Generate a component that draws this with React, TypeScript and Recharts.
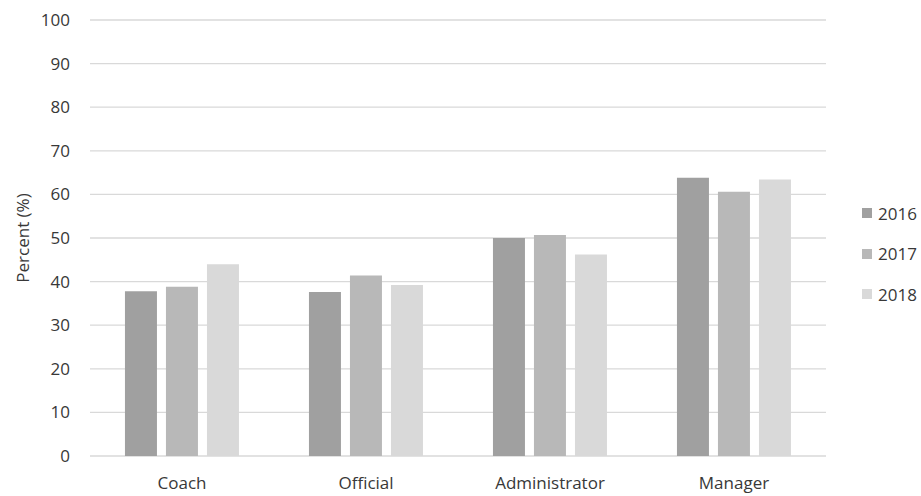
import { BarChart, Bar, XAxis, YAxis, CartesianGrid } from "recharts";

const categories = ["Coach", "Official", "Administrator", "Manager"];
const years = ["2016", "2017", "2018"];
const values2016 = [37.8, 37.6, 50.0, 63.8];
const values2017 = [38.8, 41.4, 50.7, 60.6];
const values2018 = [44.0, 39.2, 46.2, 63.4];
const yTicks = [0, 10, 20, 30, 40, 50, 60, 70, 80, 90, 100];

const colors = ["#a0a0a0", "#b8b8b8", "#d9d9d9"];
const font = "'Open Sans', sans-serif";
const textColor = "#383838";
const fontSize = 17;

const data = categories.map((name, i) => ({
  name,
  "2016": values2016[i],
  "2017": values2017[i],
  "2018": values2018[i],
}));

// legend sits to the right of the plot, outside recharts layout
function LegendBox() {
  return (
    <div
      style={{
        position: "absolute",
        left: 862,
        top: 193,
        fontFamily: font,
        fontSize,
        color: textColor,
      }}
    >
      {years.map((y, i) => (
        <div
          key={y}
          style={{ display: "flex", alignItems: "center", height: 40.5 }}
        >
          <span
            style={{
              width: 10,
              height: 10,
              background: colors[i],
              marginRight: 6,
              display: "inline-block",
            }}
          />
          {y}
        </div>
      ))}
    </div>
  );
}

export default function App() {
  return (
    <div
      style={{
        position: "fixed",
        left: 0,
        top: 0,
        width: 921,
        height: 496,
        background: "#fff",
      }}
    >
      <BarChart
        width={921}
        height={496}
        data={data}
        margin={{ top: 20, right: 95, bottom: 10, left: 0 }}
        barCategoryGap="19%"
        barGap={9}
      >
        <CartesianGrid vertical={false} stroke="#d9d9d9" strokeWidth={1.3} />
        <XAxis
          dataKey="name"
          axisLine={false}
          tickLine={false}
          tickSize={0}
          tickMargin={21}
          height={30}
          tick={{ fill: textColor, fontSize, fontFamily: font }}
        />
        <YAxis
          domain={[0, 100]}
          ticks={yTicks}
          width={90}
          axisLine={false}
          tickLine={false}
          tickSize={0}
          tickMargin={20}
          tick={{ fill: textColor, fontSize, fontFamily: font }}
          label={{
            content: (props: any) => {
              const vb = props.viewBox || { y: 20, height: 436 };
              const cy = vb.y + vb.height / 2;
              return (
                <text
                  x={22}
                  y={cy}
                  transform={`rotate(-90 22 ${cy})`}
                  textAnchor="middle"
                  dominantBaseline="central"
                  fill={textColor}
                  fontSize={fontSize}
                  fontFamily={font}
                >
                  Percent (%)
                </text>
              );
            },
          }}
        />
        {years.map((y, i) => (
          <Bar key={y} dataKey={y} fill={colors[i]} isAnimationActive={false} />
        ))}
      </BarChart>
      <LegendBox />
    </div>
  );
}
